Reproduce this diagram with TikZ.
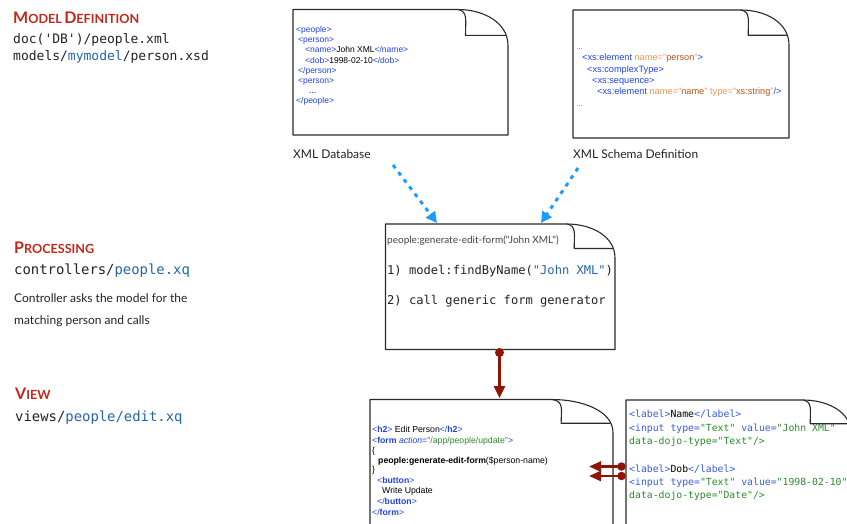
\documentclass[tikz,border=0pt]{standalone}
\usepackage{fontspec}
\setmainfont{Lato}
\newfontfamily\labelfont{Lato}[Ligatures=TeXOff]
\newfontfamily\codefont{DejaVu Sans Mono}[Ligatures=TeXOff]
\newfontfamily\xmlfont{Liberation Sans}[Ligatures=TeXOff]
\usetikzlibrary{arrows.meta}

\definecolor{headred}{HTML}{C0281A}
\definecolor{pathblue}{HTML}{2466A8}
\definecolor{ink}{HTML}{222222}
\definecolor{tagblue}{HTML}{2244DD}
\definecolor{htmlblue}{HTML}{3A5BE0}
\definecolor{attrorange}{HTML}{F0955A}
\definecolor{valbrown}{HTML}{B8561A}
\definecolor{codegreen}{HTML}{2E8B2E}
\definecolor{arrowred}{HTML}{8E1508}
\definecolor{dotblue}{HTML}{1E9BFF}
\definecolor{pageline}{HTML}{2A2A2A}

% heading in hand-made small capitals
\newcommand\capword[2]{{\fontsize{16}{17}\selectfont #1}{\fontsize{12.6}{13}\selectfont #2}}
% colour helpers for the code samples
\newcommand\tg[1]{\textcolor{tagblue}{#1}}
\newcommand\tb[1]{\textcolor{htmlblue}{#1}}
\newcommand\at[1]{\textcolor{attrorange}{#1}}
\newcommand\vl[1]{\textcolor{valbrown}{#1}}
\newcommand\gr[1]{\textcolor{codegreen}{#1}}
\newcommand\pb[1]{\textcolor{pathblue}{#1}}

% sheet of paper with a curled upper right corner
% #1 x0, #2 y0, #3 x1, #4 y1, #5 curl width, #6 curl height
\newcommand\curledpage[6]{%
  \filldraw[pagebox] (#1,#4) -- (#1,#2) -- ({#3-#5},#2)
    .. controls ({#3-0.5*#5},#2) and (#3,{#2+0.35*#6}) .. (#3,{#2+#6})
    -- (#3,#4) -- cycle;
  \draw[pagebox] ({#3-#5},#2)
    .. controls ({#3-0.8*#5},{#2+0.05*#6}) and ({#3-0.85*#5},{#2+0.3*#6}) .. ({#3-0.85*#5},{#2+0.72*#6})
    -- ({#3-0.04*#5},{#2+0.72*#6});
}

\tikzset{
  pagebox/.style={draw=pageline, fill=white, line width=1.1pt, line join=round},
  heading/.style={anchor=base west, inner sep=0pt, text=headred, font=\bfseries},
  pathline/.style={anchor=base west, inner sep=0pt, text=ink, font=\codefont\fontsize{13}{13}\selectfont},
  pathlinebig/.style={pathline, font=\codefont\fontsize{13.9}{14}\selectfont},
  note/.style={anchor=base west, inner sep=0pt, text=ink, font=\labelfont\fontsize{12}{13}\selectfont},
  caption/.style={anchor=base west, inner sep=0pt, text=ink, font=\labelfont\fontsize{12}{13}\selectfont},
  xmlline/.style={anchor=base west, inner sep=0pt, text=black, font=\xmlfont\fontsize{8.5}{9}\selectfont},
  tplline/.style={xmlline, font=\xmlfont\fontsize{8.7}{9}\selectfont},
  xsdline/.style={anchor=base west, inner sep=0pt, text=tagblue, font=\xmlfont\fontsize{9.2}{10}\selectfont},
  proctitle/.style={anchor=base west, inner sep=0pt, text=ink!85, font=\labelfont\fontsize{10}{11}\selectfont},
  procline/.style={anchor=base west, inner sep=0pt, text=ink, font=\codefont\fontsize{12.1}{13}\selectfont},
  htmlline/.style={anchor=base west, inner sep=0pt, text=black, font=\codefont\fontsize{9.8}{11}\selectfont},
  dotflow/.style={draw=dotblue, line width=3pt, dash pattern=on 4pt off 5pt,
    -{Triangle[length=11pt,width=11pt]}},
  redflow/.style={draw=arrowred, line width=2.7pt, -{Triangle[length=12pt,width=11pt]}},
  reddot/.style={circle, fill=arrowred, inner sep=0pt, minimum size=9pt},
}

\begin{document}
\begin{tikzpicture}[x=1pt,y=-1pt]
\useasboundingbox (0,0) rectangle (847,523);
\clip (0,0) rectangle (847,523);

% ---------- left column: layers ----------
\node[heading] (modelhead) at (13,23) {\capword{M}{ODEL} \capword{D}{EFINITION}};
\node[pathline] (modelpath1) at (13,43) {doc(\textquotesingle DB\textquotesingle)/people.xml};
\node[pathline] (modelpath2) at (13,60) {models/\pb{mymodel}/person.xsd};

\node[heading] (prochead) at (14,253) {\capword{P}{ROCESSING}};
\node[pathlinebig] (procpath) at (14,274) {controllers/\pb{people.xq}};
\node[note] (procnote1) at (14,302.7) {Controller asks the model for the};
\node[note] (procnote2) at (14,324) {matching person and calls};

\node[heading] (viewhead) at (15,399.5) {\capword{V}{IEW}};
\node[pathlinebig] (viewpath) at (15,421) {views/\pb{people/edit.xq}};

% ---------- XML database ----------
\curledpage{293}{9.5}{508}{135}{50}{36}
\node[xmlline] (db1) at (296,32)  {\tg{<people>}};
\node[xmlline] (db2) at (298,42)  {\tg{<person>}};
\node[xmlline] (db3) at (305,52.5){\tg{<name>}John XML\tg{</name>}};
\node[xmlline] (db4) at (305,63)  {\tg{<dob>}1998-02-10\tg{</dob>}};
\node[xmlline] (db5) at (298,73)  {\tg{</person>}};
\node[xmlline] (db6) at (298,83)  {\tg{<person>}};
\node[xmlline] (db7) at (309,93)  {...};
\node[xmlline] (db8) at (296,103) {\tg{</people>}};
\node[caption] (dblabel) at (293,158) {XML Database};

% ---------- XML schema ----------
\curledpage{573}{10}{789}{138}{48}{35}
\node[xsdline, text=black, font=\xmlfont\fontsize{6}{6}\selectfont] (xsd0) at (577,49) {...};
\node[xsdline] (xsd1) at (582,60) {<xs:element \at{name="}\vl{person}\at{"}>};
\node[xsdline] (xsd2) at (587,72) {<xs:complexType>};
\node[xsdline] (xsd3) at (592,83) {<xs:sequence>};
\node[xsdline] (xsd4) at (597,94) {<xs:element \at{name="}\vl{name}\at{"} \at{type="}\vl{xs:string}\at{"}/>};
\node[xsdline, text=black, font=\xmlfont\fontsize{6}{6}\selectfont] (xsd5) at (577,106) {...};
\node[caption] (xsdlabel) at (573,158) {XML Schema Definition};

% ---------- controller ----------
\curledpage{385.5}{224}{615}{349.5}{48}{34}
\node[proctitle] (proctitle) at (387,243) {people:generate-edit-form("John XML")};
\node[procline] (procstep1) at (387,274) {1) model:findByName(\textcolor{pathblue}{"John XML"})};
\node[procline] (procstep2) at (387,304) {2) call generic form generator};

% ---------- view template ----------
\curledpage{370}{399.5}{613}{540}{61}{33}
\node[tplline] (tp1) at (372,432) {\tg{<\textbf{h2}>} Edit Person\tg{</\textbf{h2}>}};
\node[tplline] (tp2) at (372,443) {\tg{<\textbf{form} \textit{action}=}\gr{"/app/people/update"}\tg{>}};
\node[tplline] (tp3) at (372,453) {\{};
\node[tplline] (tp4) at (378,463) {\textbf{people:generate-edit-form}(\$person-name)};
\node[tplline] (tp5) at (372,472) {\}};
\node[tplline] (tp6) at (377,483) {\tg{<\textbf{button}>}};
\node[tplline] (tp7) at (382,493) {Write Update};
\node[tplline] (tp8) at (377,504) {\tg{</\textbf{button}>}};
\node[tplline] (tp9) at (372,515) {\tg{</\textbf{form}>}};

% ---------- generated form fields ----------
\curledpage{626}{400}{851}{540}{48}{33}
\node[htmlline] (fld1) at (629,417) {\tb{<label>}Name\tb{</label>}};
\node[htmlline] (fld2) at (629,431) {\tb{<input type=}\gr{"Text"} \tb{value=}\gr{"John XML"}};
\node[htmlline] (fld3) at (629,444) {\gr{data-dojo-type="Text"/>}};
\node[htmlline] (fld4) at (629,472) {\tb{<label>}Dob\tb{</label>}};
\node[htmlline] (fld5) at (629,485) {\tb{<input type=}\gr{"Text"} \tb{value=}\gr{"1998-02-10"}};
\node[htmlline] (fld6) at (629,498) {\gr{data-dojo-type="Date"/>}};

% ---------- connectors ----------
\coordinate (dbout)  at (393,165);
\coordinate (xsdout) at (578,168);
\coordinate (procin1) at (437,223);
\coordinate (procin2) at (541,223);
\draw[dotflow] (dbout) -- (procin1);
\draw[dotflow] (xsdout) -- (procin2);

\node[reddot] (procout) at (499.5,352.5) {};
\coordinate (viewin) at (499.5,398);
\draw[redflow] (procout.center) -- (viewin);

\node[reddot, minimum size=8.5pt] (fldout1) at (621.5,466.5) {};
\node[reddot, minimum size=8.5pt] (fldout2) at (621.5,476) {};
\coordinate (tplin1) at (589,466.5);
\coordinate (tplin2) at (589,476);
\draw[redflow, line width=2.5pt, -{Triangle[length=12pt,width=10pt]}] (fldout1.center) -- (tplin1);
\draw[redflow, line width=2.5pt, -{Triangle[length=12pt,width=10pt]}] (fldout2.center) -- (tplin2);
\end{tikzpicture}
\end{document}
